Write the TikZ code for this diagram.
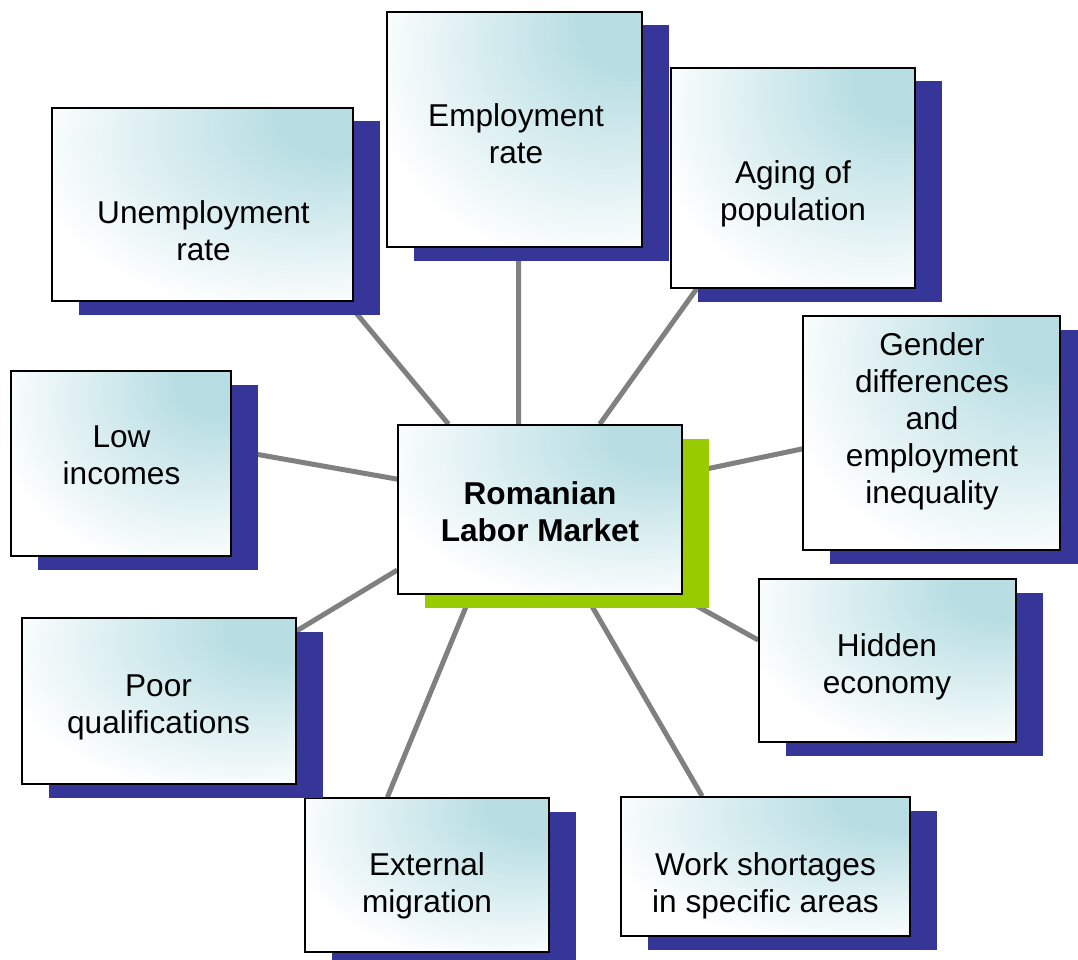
\documentclass[tikz,border=0pt]{standalone}
\usepackage{fontspec}
\setmainfont{Liberation Sans}
\usetikzlibrary{shadows}
\pgfdeclarelayer{background}
\pgfsetlayers{background,main}
\definecolor{navyshadow}{HTML}{363699}
\definecolor{limeshadow}{HTML}{99CC00}
\definecolor{spokegray}{HTML}{808080}
% pale teal glow spreading from the upper right corner of each card
\pgfdeclareradialshading{cornerglow}{\pgfpoint{25bp}{25bp}}{rgb(0bp)=(0.72,0.87,0.89); rgb(10bp)=(0.72,0.87,0.89); rgb(43bp)=(1,1,1); rgb(100bp)=(1,1,1)}
\tikzset{
  cardbase/.style={draw=black, line width=1.6pt, shading=cornerglow, shade, inner sep=0pt},
  card/.style={cardbase, general shadow={fill=navyshadow, shadow xshift=27pt, shadow yshift=-13.5pt}},
  hubcard/.style={cardbase, general shadow={fill=limeshadow, shadow xshift=26.5pt, shadow yshift=-13.5pt}},
  cardtext/.style={align=center, inner sep=0pt, font=\fontsize{31.6}{37}\selectfont},
  spoke/.style={draw=spokegray, line width=5pt}
}
\begin{document}
\begin{tikzpicture}[x=1pt, y=-1pt]
\useasboundingbox (0,0) rectangle (1078,960);

% cards
\node[card, minimum width=301pt, minimum height=193pt] (unemp) at (202.5,204.5) {};
\node[card, minimum width=255pt, minimum height=235pt] (emp) at (514.5,129.5) {};
\node[card, minimum width=244pt, minimum height=220pt] (aging) at (793,178) {};
\node[card, minimum width=257pt, minimum height=234pt] (gender) at (931.5,433) {};
\node[card, minimum width=257pt, minimum height=163pt] (hidden) at (887.5,660.5) {};
\node[card, minimum width=289pt, minimum height=139pt] (work) at (765.5,866.5) {};
\node[card, minimum width=244pt, minimum height=154pt] (ext) at (427,875) {};
\node[card, minimum width=274pt, minimum height=166pt] (poor) at (159,701) {};
\node[card, minimum width=220pt, minimum height=185pt] (low) at (121,463.5) {};
\node[hubcard, minimum width=284pt, minimum height=169pt] (hub) at (540,509.5) {};

% card texts
\node[cardtext] (unempT) at (203.5,231) {Unemployment\\rate};
\node[cardtext] (empT) at (516,134) {Employment\\rate};
\node[cardtext] (agingT) at (793,194) {Aging of\\population};
\node[cardtext] (genderT) at (932,421.5) {Gender\\differences\\and\\employment\\inequality};
\node[cardtext] (hiddenT) at (887,667) {Hidden\\economy};
\node[cardtext] (workT) at (765.5,885.5) {Work shortages\\in specific areas};
\node[cardtext] (extT) at (427,885.5) {External\\migration};
\node[cardtext] (poorT) at (158.5,707.5) {Poor\\qualifications};
\node[cardtext] (lowT) at (121.5,455.5) {Low\\incomes};
\node[cardtext, font=\fontsize{31.6}{37}\selectfont\bfseries] (hubT) at (540,512) {Romanian\\Labor Market};

% spokes behind all cards
\begin{pgfonlayer}{background}
\draw[spoke] (hub.137) -- (unemp.-34);
\draw[spoke] (hub.104) -- (emp.-88);
\draw[spoke] (hub.55) -- (aging.-131);
\draw[spoke] (hub.14) -- (gender.187);
\draw[spoke] (hub.-32) -- (hidden.171);
\draw[spoke] (hub.-62) -- (work.132);
\draw[spoke] (hub.-129) -- (ext.117);
\draw[spoke] (hub.-157) -- (poor.27);
\draw[spoke] (hub.168) -- (low.7);
\end{pgfonlayer}
\end{tikzpicture}
\end{document}
